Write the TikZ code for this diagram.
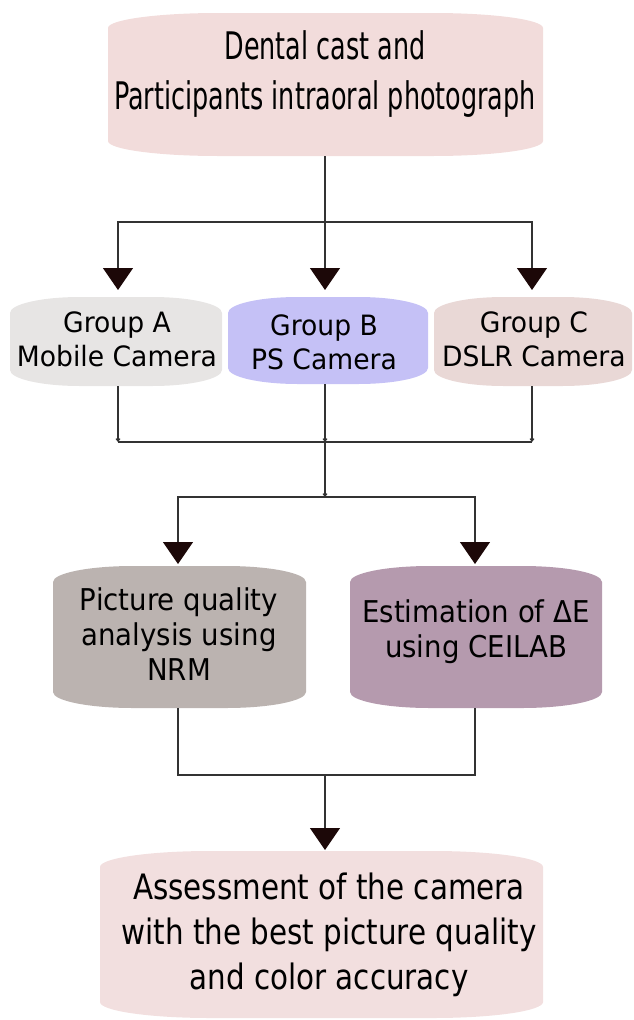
\documentclass[tikz,border=0pt]{standalone}
\usepackage{fontspec}
\setmainfont{DejaVu Sans}
\newfontfamily\topfont{DejaVu Sans}[FakeStretch=0.67]
\newfontfamily\groupfont{DejaVu Sans}[FakeStretch=0.95]
\newfontfamily\midfont{DejaVu Sans}[FakeStretch=0.92]
\newfontfamily\endfont{DejaVu Sans}[FakeStretch=0.84]
\usetikzlibrary{arrows.meta}

\definecolor{cTop}{HTML}{F2DCDB}
\definecolor{cA}{HTML}{E7E5E4}
\definecolor{cB}{HTML}{C5C1F6}
\definecolor{cC}{HTML}{E9D8D6}
\definecolor{cPic}{HTML}{BBB3B0}
\definecolor{cEst}{HTML}{B59AAE}
\definecolor{cEnd}{HTML}{F2DFDF}
\definecolor{cTip}{HTML}{1C0808}
\definecolor{cLine}{HTML}{333333}

% Box with straight sides and bulging top/bottom edges.
% #1 x left, #2 y top, #3 x right, #4 y bottom (y grows downward), #5 rx, #6 ry, #7 colour
\newcommand\bulgebox[7]{%
  \fill[#7] (#1,#2+#6) arc[start angle=180,end angle=90,x radius=#5pt,y radius=#6pt]
    -- (#3-#5,#2) arc[start angle=90,end angle=0,x radius=#5pt,y radius=#6pt]
    -- (#3,#4-#6) arc[start angle=0,end angle=-90,x radius=#5pt,y radius=#6pt]
    -- (#1+#5,#4) arc[start angle=-90,end angle=-180,x radius=#5pt,y radius=#6pt]
    -- cycle;}

\tikzset{
  lbl/.style={inner sep=0pt, align=center, text=black},
  frame/.style={inner sep=0pt, minimum width=#1pt},
  link/.style={draw=cLine, line width=1.1pt},
  bigtip/.style={link, -{Triangle[width=30pt,length=22pt,fill=cTip,color=cTip]}},
  smalltip/.style={link, -{Straight Barb[length=2.5pt,width=4pt]}},
}

\begin{document}
\begin{tikzpicture}[x=1pt,y=-1pt]
\useasboundingbox (0,0) rectangle (634,1020);

% boxes
\bulgebox{108}{13}{543}{156}{110}{15}{cTop}
\bulgebox{10}{297}{222}{386}{70}{16}{cA}
\bulgebox{228}{297}{428}{384}{70}{16}{cB}
\bulgebox{434}{297}{632}{386}{70}{16}{cC}
\bulgebox{53}{566}{306}{708}{80}{16}{cPic}
\bulgebox{350}{566}{602}{708}{80}{16}{cEst}
\bulgebox{100}{851}{543}{1018}{110}{16}{cEnd}

% anchor frames for the connectors
\path (325,13) node[frame=435, minimum height=143, anchor=north] (top) {};
\path (118,297) node[frame=10, minimum height=89, anchor=north] (gA) {};
\path (325,297) node[frame=10, minimum height=87, anchor=north] (gB) {};
\path (532,297) node[frame=10, minimum height=89, anchor=north] (gC) {};
\path (178,566) node[frame=10, minimum height=142, anchor=north] (pic) {};
\path (475,566) node[frame=10, minimum height=142, anchor=north] (est) {};
\path (325,851) node[frame=10, minimum height=167, anchor=north] (fin) {};

% texts
\node[lbl, font=\topfont\fontsize{38}{50}\selectfont] at (325,74)
  {Dental cast and\\Participants intraoral photograph};
\node[lbl, font=\groupfont\fontsize{28}{34}\selectfont] at (117,339) {Group A\\Mobile Camera};
\node[lbl, font=\groupfont\fontsize{28}{34}\selectfont] at (324,342) {Group B\\PS Camera};
\node[lbl, font=\groupfont\fontsize{28}{34}\selectfont] at (534,339) {Group C\\DSLR Camera};
\node[lbl, font=\midfont\fontsize{30}{35}\selectfont] at (179,634) {Picture quality\\analysis using\\NRM};
\node[lbl, font=\midfont\fontsize{30}{35}\selectfont] at (476,632) {Estimation of ΔE\\using CEILAB};
\node[lbl, font=\endfont\fontsize{35}{45}\selectfont] at (329,935)
  {Assessment of the camera\\with the best picture quality\\and color accuracy};

% junction points
\coordinate (j1) at (325,222);
\coordinate (jA) at (118,442);
\coordinate (jB) at (325,442);
\coordinate (jC) at (532,442);
\coordinate (j2) at (325,497);
\coordinate (j3) at (325,775);

% first split
\draw[link] (top.south) -- (j1);
\draw[bigtip, shorten >=7pt] (j1) -| (gA.north);
\draw[bigtip, shorten >=7pt] (j1) -- (gB.north);
\draw[bigtip, shorten >=7pt] (j1) -| (gC.north);

% merge of the three groups
\draw[smalltip] (gA.south) -- (jA);
\draw[smalltip] (gC.south) -- (jC);
\draw[smalltip] (gB.south) -- (jB);
\draw[link] (jA) -- (jC);
\draw[smalltip] (jB) -- (j2);

% second split
\draw[bigtip, shorten >=2pt] (j2) -| (pic.north);
\draw[bigtip, shorten >=2pt] (j2) -| (est.north);

% final merge
\draw[link] (pic.south) |- (j3);
\draw[link] (est.south) |- (j3);
\draw[bigtip, shorten >=1pt] (j3) -- (fin.north);
\end{tikzpicture}
\end{document}
